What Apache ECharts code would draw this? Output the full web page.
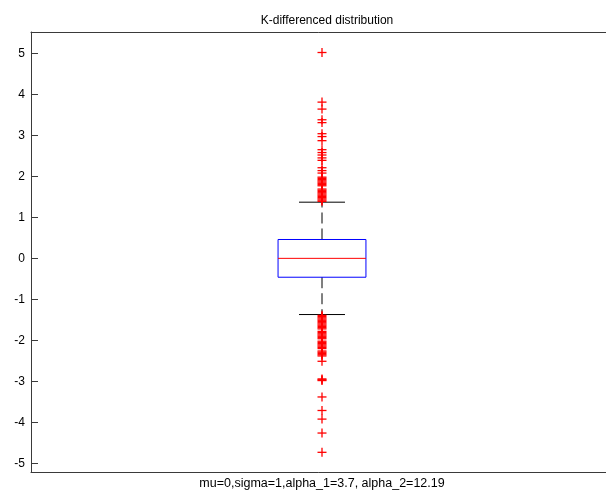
<!DOCTYPE html>
<html>
<head>
<meta charset="utf-8">
<script src="https://cdn.jsdelivr.net/npm/echarts@6/dist/echarts.min.js"></script>
<style>
  html, body { margin: 0; padding: 0; background: #fff; }
  #chart { width: 606px; height: 495px; }
</style>
</head>
<body>
<div id="chart"></div>
<script>
// Box statistics: lower whisker, first quartile, median, third quartile, upper whisker
const boxStats = [-1.37, -0.46, 0.0, 0.46, 1.37];

// Points beyond the whiskers
const upperOutliers = [
  5.02, 3.81, 3.64, 3.38, 3.31, 3.04, 2.97, 2.87, 2.65, 2.58, 2.52, 2.45, 2.39,
  2.21, 2.14, 2.08, 1.98, 1.95, 1.92, 1.89, 1.86, 1.83, 1.80, 1.77,
  1.69, 1.66, 1.63, 1.60, 1.57, 1.54, 1.51, 1.48, 1.45, 1.42, 1.39
];
const lowerOutliers = [
  -1.39, -1.42, -1.45, -1.48, -1.51, -1.54, -1.57, -1.60, -1.63, -1.66, -1.69, -1.72,
  -1.78, -1.81, -1.84, -1.87, -1.90, -1.93, -1.96,
  -2.02, -2.05, -2.08, -2.11, -2.14, -2.17, -2.20,
  -2.26, -2.29, -2.32, -2.35, -2.38,
  -2.51, -2.94, -2.96, -2.98, -3.38, -3.71, -3.92, -4.26, -4.73
];

const yTicks = [-5, -4, -3, -2, -1, 0, 1, 2, 3, 4, 5];
const titleText = 'K-differenced distribution';
const xLabelText = 'mu=0,sigma=1,alpha_1=3.7, alpha_2=12.19';

const FONT = 'Liberation Sans, Arial, sans-serif';
const AXIS_COLOR = '#3a3a3a';
const BOX_WIDTH = 0.151;   // in x-axis units
const CAP_WIDTH = 0.079;
const MARK_HALF = 4.5;     // px

const chart = echarts.init(document.getElementById('chart'), null, { renderer: 'canvas' });

const outlierData = upperOutliers.concat(lowerOutliers).map(v => [1, v]);

chart.setOption({
  animation: false,
  backgroundColor: '#fff',
  title: {
    text: titleText,
    left: 322,
    top: 10,
    textAlign: 'center',
    textStyle: { fontFamily: FONT, fontSize: 12, fontWeight: 'normal', color: '#000' }
  },
  grid: {
    left: 31, top: 32, right: -7, bottom: 23,
    outerBoundsMode: 'none',
    containLabel: false,
    show: false
  },
  xAxis: [
    {
      type: 'value', min: 0.5, max: 1.5, position: 'bottom',
      name: xLabelText, nameLocation: 'middle', nameGap: 5,
      nameTextStyle: { fontFamily: FONT, fontSize: 12.5, color: '#000', verticalAlign: 'top' },
      axisLine: { show: true, onZero: false, lineStyle: { color: AXIS_COLOR, width: 1 } },
      axisTick: { show: false }, axisLabel: { show: false }, splitLine: { show: false }
    },
    {
      type: 'value', min: 0.5, max: 1.5, position: 'top',
      axisLine: { show: true, onZero: false, lineStyle: { color: AXIS_COLOR, width: 1 } },
      axisTick: { show: false }, axisLabel: { show: false }, splitLine: { show: false }
    }
  ],
  yAxis: {
    type: 'value', min: -5.21, max: 5.52,
    axisLine: { show: true, onZero: false, lineStyle: { color: AXIS_COLOR, width: 1 } },
    axisTick: { show: true, inside: true, length: 7, customValues: yTicks,
      lineStyle: { color: AXIS_COLOR, width: 1 } },
    axisLabel: { show: true, customValues: yTicks, margin: 6,
      fontFamily: FONT, fontSize: 12, color: '#000' },
    splitLine: { show: false }
  },
  series: [
    {
      type: 'custom',
      coordinateSystem: 'cartesian2d',
      data: [[1].concat(boxStats)],
      encode: { x: 0, y: [1, 2, 3, 4, 5] },
      renderItem: function (params, api) {
        const x = api.value(0);
        const lw = api.coord([x, api.value(1)]);
        const q1 = api.coord([x, api.value(2)]);
        const med = api.coord([x, api.value(3)]);
        const q3 = api.coord([x, api.value(4)]);
        const uw = api.coord([x, api.value(5)]);
        const bw = api.size([BOX_WIDTH, 0])[0];
        const cw = api.size([CAP_WIDTH, 0])[0];
        const cx = med[0];
        const dash = { stroke: '#000', lineWidth: 1, lineDash: [11, 5] };
        const solid = { stroke: '#000', lineWidth: 1 };
        return {
          type: 'group',
          children: [
            { type: 'line', shape: { x1: cx, y1: q3[1], x2: cx, y2: uw[1] }, style: dash },
            { type: 'line', shape: { x1: cx, y1: q1[1], x2: cx, y2: lw[1] }, style: dash },
            { type: 'line', shape: { x1: cx - cw / 2, y1: uw[1], x2: cx + cw / 2, y2: uw[1] }, style: solid },
            { type: 'line', shape: { x1: cx - cw / 2, y1: lw[1], x2: cx + cw / 2, y2: lw[1] }, style: solid },
            { type: 'rect', shape: { x: cx - bw / 2, y: q3[1], width: bw, height: q1[1] - q3[1] },
              style: { fill: 'none', stroke: '#0000ff', lineWidth: 1 } },
            { type: 'line', shape: { x1: cx - bw / 2, y1: med[1], x2: cx + bw / 2, y2: med[1] },
              style: { stroke: '#ff0000', lineWidth: 1 } }
          ]
        };
      }
    },
    {
      type: 'custom',
      coordinateSystem: 'cartesian2d',
      data: outlierData,
      encode: { x: 0, y: 1 },
      z: 3,
      renderItem: function (params, api) {
        const p = api.coord([api.value(0), api.value(1)]);
        const st = { stroke: '#ff0000', lineWidth: 1.3 };
        return {
          type: 'group',
          children: [
            { type: 'line', shape: { x1: p[0] - MARK_HALF, y1: p[1], x2: p[0] + MARK_HALF, y2: p[1] }, style: st },
            { type: 'line', shape: { x1: p[0], y1: p[1] - MARK_HALF, x2: p[0], y2: p[1] + MARK_HALF }, style: st }
          ]
        };
      }
    }
  ]
});
</script>
</body>
</html>
